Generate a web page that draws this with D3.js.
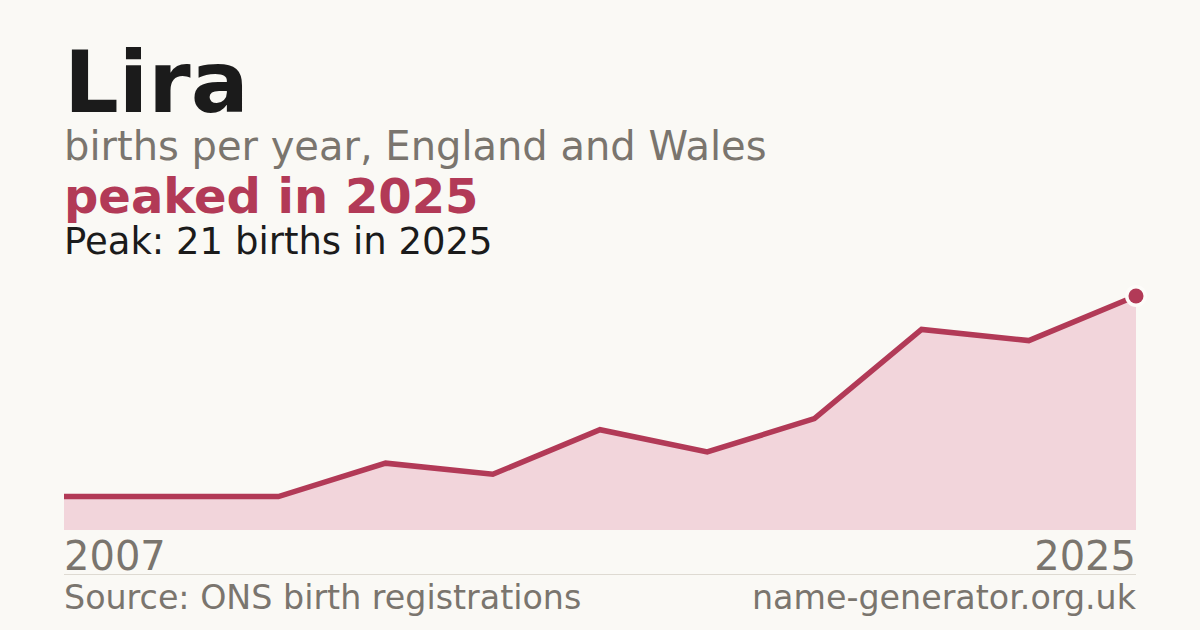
<!DOCTYPE html>
<html>
<head>
<meta charset="utf-8">
<script src="https://cdn.jsdelivr.net/npm/d3@7"></script>
<style>
    html, body { margin: 0; padding: 0; background: #faf9f5; }
    svg { display: block; font-family: "DejaVu Sans", sans-serif; }
</style>
</head>
<body>
<svg id="chart"></svg>
<script>
// values (only first and last year are labelled)
const years = [2007, 2010, 2013, 2016, 2018, 2019, 2020, 2021, 2022, 2024, 2025];
const births = [3, 3, 3, 6, 5, 9, 7, 10, 18, 17, 21];
const tickYears = [2007, 2025];

const titleText = "Lira";
const subtitleText = "births per year, England and Wales";
const headlineText = "peaked in 2025";
const peakText = "Peak: 21 births in 2025";
const sourceText = "Source: ONS birth registrations";
const siteText = "name-generator.org.uk";

class TrendArea {
    constructor(_config, _years, _values) {
        this.config = {
            parentElement: _config.parentElement,
            containerWidth: 1200,
            containerHeight: 630,
            margin: {top: 296, right: 64, bottom: 100, left: 64}
        }
        this.years = _years;
        this.values = _values;
        this.initVis();
    }

    initVis() {
        let vis = this;

        vis.width = vis.config.containerWidth - vis.config.margin.left - vis.config.margin.right;
        vis.height = vis.config.containerHeight - vis.config.margin.top - vis.config.margin.bottom;

        vis.svg = d3.select(vis.config.parentElement)
            .attr('width', vis.config.containerWidth)
            .attr('height', vis.config.containerHeight);

        vis.svg.append('rect')
            .attr('width', vis.config.containerWidth)
            .attr('height', vis.config.containerHeight)
            .attr('fill', '#faf9f5');

        // points are evenly spaced, not by calendar year
        vis.x = d3.scalePoint()
            .domain(vis.years)
            .range([0, vis.width]);

        vis.y = d3.scaleLinear()
            .domain([0, d3.max(vis.values)])
            .range([vis.height, 0]);

        vis.chart = vis.svg.append('g')
            .attr('transform', `translate(${vis.config.margin.left},${vis.config.margin.top})`);
    }

    renderVis() {
        let vis = this;
        let pts = vis.years.map((yr, i) => ({year: yr, value: vis.values[i]}));

        let area = d3.area()
            .x(d => vis.x(d.year))
            .y0(vis.height)
            .y1(d => vis.y(d.value));

        let line = d3.line()
            .x(d => vis.x(d.year))
            .y(d => vis.y(d.value));

        vis.chart.append('path')
            .datum(pts)
            .attr('d', area)
            .attr('fill', '#f2d5db');

        vis.chart.append('path')
            .datum(pts)
            .attr('d', line)
            .attr('fill', 'none')
            .attr('stroke', '#b23a57')
            .attr('stroke-width', 5.5)
            .attr('stroke-linejoin', 'miter');

        // peak marker with a light halo that cuts into the line
        let peak = pts[d3.maxIndex(pts, d => d.value)];
        vis.chart.append('circle')
            .attr('cx', vis.x(peak.year))
            .attr('cy', vis.y(peak.value))
            .attr('r', 11)
            .attr('fill', '#fdfcf9');
        vis.chart.append('circle')
            .attr('cx', vis.x(peak.year))
            .attr('cy', vis.y(peak.value))
            .attr('r', 7.5)
            .attr('fill', '#b23a57');

        // x labels, first and last only
        vis.chart.selectAll('.year-label')
            .data(tickYears)
            .enter().append('text')
            .attr('class', 'year-label')
            .attr('x', d => vis.x(d))
            .attr('y', vis.height + 39.5)
            .attr('text-anchor', (d, i) => i === 0 ? 'start' : 'end')
            .attr('font-size', 40)
            .attr('fill', '#7a756e')
            .text(d => d);

        vis.chart.append('line')
            .attr('x1', 0)
            .attr('x2', vis.width)
            .attr('y1', vis.height + 44.5)
            .attr('y2', vis.height + 44.5)
            .attr('stroke', '#dedad2')
            .attr('stroke-width', 1);
    }
}

let svg = d3.select('#chart');
let chart = new TrendArea({parentElement: '#chart'}, years, births);
chart.renderVis();

// headings
svg.append('text').attr('x', 64).attr('y', 112)
    .attr('font-size', 86).attr('font-weight', 'bold').attr('fill', '#1b1b1b')
    .text(titleText);
svg.append('text').attr('x', 64).attr('y', 160)
    .attr('font-size', 40).attr('fill', '#7a756e')
    .text(subtitleText);
svg.append('text').attr('x', 64).attr('y', 213)
    .attr('font-size', 48).attr('font-weight', 'bold').attr('fill', '#b23a57')
    .text(headlineText);
svg.append('text').attr('x', 64).attr('y', 254)
    .attr('font-size', 37).attr('fill', '#1b1b1b')
    .text(peakText);

// footer
svg.append('text').attr('x', 64).attr('y', 609)
    .attr('font-size', 33.3).attr('fill', '#7a756e')
    .text(sourceText);
svg.append('text').attr('x', 1136).attr('y', 609)
    .attr('text-anchor', 'end')
    .attr('font-size', 33.3).attr('fill', '#7a756e')
    .text(siteText);
</script>
</body>
</html>
